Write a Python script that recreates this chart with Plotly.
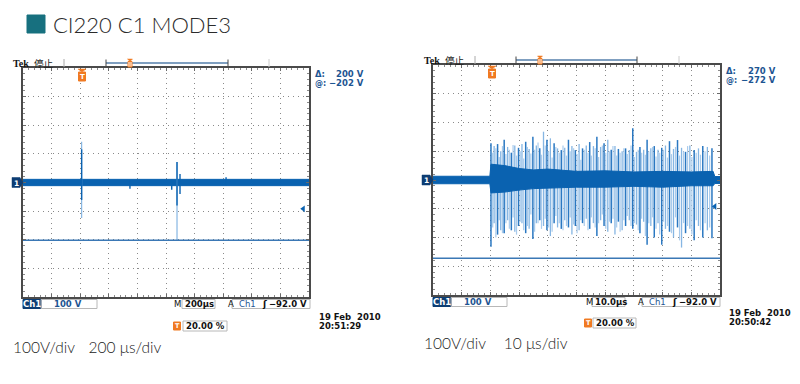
import plotly.graph_objects as go

# ---------------- data ----------------
# left scope: 200 us/div, 100 V/div, trigger at 20 %
L_env_t = [-400, 1600]
L_env_hi = [11, 11]
L_env_lo = [-11, -11]
L_dark_t = [10, 348, 640, 677, 698, 1020]
L_dark_hi = [116, 8, 10, 72, 30, 18]
L_dark_lo = [-61, -22, -25, -80, -40, -10]
L_light_t = [10, 677]
L_light_hi = [142, 72]
L_light_lo = [-124, -201]
L_cursor = -202
L_trig_level = -92

# right scope: 10 us/div, 100 V/div, trigger at 20 %
R_env_t = [-20, -0.2, 0.2, 5, 10, 15, 20, 30, 40, 50, 60, 70, 77.6, 78.2, 80]
R_env_hi = [13, 13, 55, 50, 40, 35, 38, 30, 32, 28, 30, 28, 30, 12, 12]
R_env_lo = [-13, -13, -45, -42, -35, -30, -28, -25, -25, -22, -25, -20, -20, -12, -12]
R_spk_t = [0.2, 1.3, 2.5, 3.6, 4.8, 6.0, 7.3, 8.5, 9.8, 11.0, 12.3, 13.5, 14.8, 16.0,
           17.2, 18.5, 19.7, 20.9, 22.2, 23.4, 24.7, 25.9, 27.2, 28.4, 29.6, 30.9,
           32.1, 33.4, 34.6, 35.9, 37.1, 38.4, 39.6, 40.9, 42.1, 43.4, 44.6, 45.9,
           47.1, 48.4, 49.6, 50.9, 52.1, 53.4, 54.6, 55.9, 57.1, 58.4, 59.7, 61.0,
           62.4, 63.8, 65.2, 66.6, 68.0, 69.5, 71.0, 72.5, 74.0, 75.6, 77.2]
R_spk_hi = [128, 118, 125, 100, 140, 115, 95, 120, 112, 125, 133, 108, 150, 120,
            110, 168, 140, 145, 128, 110, 104, 112, 140, 118, 104, 125,
            110, 120, 132, 118, 150, 115, 128, 140, 105, 118, 108, 100,
            110, 104, 180, 98, 115, 105, 140, 110, 118, 105, 112, 120,
            135, 108, 139, 112, 98, 120, 104, 110, 118, 115, 110]
R_spk_lo = [-232, -150, -190, -175, -185, -140, -175, -180, -160, -150, -185, -170, -205, -150,
            -140, -160, -175, -195, -150, -165, -170, -140, -165, -190, -160, -175,
            -150, -135, -170, -150, -195, -140, -160, -180, -150, -190, -145, -175,
            -160, -140, -170, -155, -185, -145, -225, -160, -200, -150, -225, -170,
            -180, -200, -165, -235, -185, -170, -210, -160, -200, -175, -203]
R_spk_style = ['d', 'l'] * 30 + ['d']
# fainter in-between spikes of the burst
R_mid_t = [0.8, 1.9, 3.1, 4.2, 5.4, 6.6, 7.9, 9.1, 10.4, 11.6, 12.9, 14.1, 15.4, 16.6,
           17.8, 19.1, 20.3, 21.5, 22.8, 24.0, 25.3, 26.5, 27.8, 29.0, 30.2, 31.5,
           32.7, 34.0, 35.2, 36.5, 37.7, 39.0, 40.2, 41.5, 42.7, 44.0, 45.2, 46.5,
           47.7, 49.0, 50.2, 51.5, 52.7, 54.0, 55.2, 56.5, 57.7, 59.0, 60.3, 61.7,
           63.1, 64.5, 65.9, 67.3, 68.7, 70.2, 71.7, 73.2, 74.8, 76.4]
R_mid_hi = [95, 110, 80, 118, 90, 105, 122, 85, 100, 75, 115, 92, 105, 130,
            88, 120, 100, 78, 115, 95, 120, 85, 100, 110, 90, 70,
            105, 95, 85, 110, 80, 120, 95, 100, 118, 85, 95, 110,
            90, 120, 80, 105, 95, 88, 100, 115, 82, 95, 105, 78,
            90, 115, 85, 100, 118, 80, 95, 88, 100, 85]
R_mid_lo = [-165, -200, -140, -185, -150, -170, -130, -190, -145, -175, -160, -120, -180, -150,
            -170, -135, -165, -180, -125, -150, -175, -160, -130, -155, -185, -140,
            -160, -175, -130, -165, -150, -120, -170, -145, -135, -165, -180, -140,
            -125, -160, -150, -175, -135, -195, -150, -130, -170, -190, -145, -160,
            -185, -130, -210, -150, -160, -190, -140, -175, -150, -165]
R_cursor = -272
R_trig_level = -92

# text
title = "CI220 C1 MODE3"
panels = [
    dict(delta="200 V", at="\u2212202 V", tb="200\u00b5s", date="19 Feb  2010", time="20:51:29",
         caption="100V/div\u2003\u2009200 \u03bcs/div"),
    dict(delta="270 V", at="\u2212272 V", tb="10.0\u00b5s", date="19 Feb  2010", time="20:50:42",
         caption="100V/div\u2003\u2009 10 \u03bcs/div"),
]

# ---------------- helpers ----------------
W, H = 800, 384
def PX(x): return x / W
def PY(y): return 1 - y / H

DARK = "#0a62b0"
MID = "#2a78c2"
LIGHT = "#86b6e3"
NAVY = "#0d3d73"
BLUE_TXT = "#1d5592"
ORANGE = "#f07a22"
SC = "DejaVu Sans"

fig = go.Figure()
ann = []
shp = []

def txt(x, y, s, size=8.5, color="#000", xa="left", family=SC, weight="bold", bg=None, ya="middle"):
    d = dict(x=PX(x), y=PY(y), xref="paper", yref="paper", text=s, showarrow=False,
             xanchor=xa, yanchor=ya, borderpad=0,
             font=dict(family=family, size=size, color=color, weight=weight))
    if bg:
        d["bgcolor"] = bg
    ann.append(d)

def rect(x0, y0, x1, y1, line="#b8b8b8", fill=None, lw=1):
    shp.append(dict(type="rect", xref="paper", yref="paper", x0=PX(x0), x1=PX(x1), y0=PY(y0), y1=PY(y1),
                    line=dict(color=line, width=lw), fillcolor=fill if fill else "rgba(0,0,0,0)", layer="above"))

def path(pts, fill, line=None):
    p = "M " + " L ".join(f"{PX(a):.5f},{PY(b):.5f}" for a, b in pts) + " Z"
    shp.append(dict(type="path", xref="paper", yref="paper", path=p, fillcolor=fill,
                    line=dict(color=line or fill, width=0.5), layer="above"))

def seg(x0, y0, x1, y1, color, w=1):
    shp.append(dict(type="line", xref="paper", yref="paper", x0=PX(x0), x1=PX(x1), y0=PY(y0), y1=PY(y1),
                    line=dict(color=color, width=w), layer="above"))

def spikes(ts, his, los):
    xs, ys = [], []
    for t, h, l in zip(ts, his, los):
        xs += [t, t, None]
        ys += [l, h, None]
    return xs, ys

def band(ts, hi, lo):
    return list(ts) + list(ts)[::-1], list(hi) + list(lo)[::-1]

# ---------------- traces ----------------
# left
bx, by = band(L_env_t, L_env_hi, L_env_lo)
fig.add_trace(go.Scatter(x=bx, y=by, fill="toself", fillcolor=DARK, line=dict(color=DARK, width=1),
                         mode="lines", xaxis="x", yaxis="y", hoverinfo="skip"))
sx, sy = spikes(L_light_t, L_light_hi, L_light_lo)
fig.add_trace(go.Scatter(x=sx, y=sy, mode="lines", line=dict(color=LIGHT, width=1.2), xaxis="x", yaxis="y"))
sx, sy = spikes(L_dark_t, L_dark_hi, L_dark_lo)
fig.add_trace(go.Scatter(x=sx, y=sy, mode="lines", line=dict(color=DARK, width=1.4), xaxis="x", yaxis="y"))
fig.add_trace(go.Scatter(x=[L_env_t[0], L_env_t[-1]], y=[L_cursor, L_cursor], mode="lines",
                         line=dict(color="#3b78b5", width=1.5), xaxis="x", yaxis="y"))
fig.add_trace(go.Scatter(x=[1560], y=[L_trig_level], mode="markers",
                         marker=dict(symbol="triangle-left", size=6, color=DARK), xaxis="x", yaxis="y"))

# right
lt = [t for t, s in zip(R_spk_t, R_spk_style) if s == "l"]
lh = [v for v, s in zip(R_spk_hi, R_spk_style) if s == "l"]
ll = [v for v, s in zip(R_spk_lo, R_spk_style) if s == "l"]
dt = [t for t, s in zip(R_spk_t, R_spk_style) if s == "d"]
dh = [v for v, s in zip(R_spk_hi, R_spk_style) if s == "d"]
dl = [v for v, s in zip(R_spk_lo, R_spk_style) if s == "d"]
sx, sy = spikes(R_mid_t, R_mid_hi, R_mid_lo)
fig.add_trace(go.Scatter(x=sx, y=sy, mode="lines", line=dict(color="#a9cbec", width=1.2), xaxis="x2", yaxis="y2"))
sx, sy = spikes(lt, lh, ll)
fig.add_trace(go.Scatter(x=sx, y=sy, mode="lines", line=dict(color=LIGHT, width=1.3), xaxis="x2", yaxis="y2"))
sx, sy = spikes(dt, dh, dl)
fig.add_trace(go.Scatter(x=sx, y=sy, mode="lines", line=dict(color=MID, width=1.5), xaxis="x2", yaxis="y2"))
bx, by = band(R_env_t, R_env_hi, R_env_lo)
fig.add_trace(go.Scatter(x=bx, y=by, fill="toself", fillcolor=DARK, line=dict(color=DARK, width=1),
                         mode="lines", xaxis="x2", yaxis="y2", hoverinfo="skip"))
fig.add_trace(go.Scatter(x=[R_env_t[0], R_env_t[-1]], y=[R_cursor, R_cursor], mode="lines",
                         line=dict(color="#3b78b5", width=1.5), xaxis="x2", yaxis="y2"))
fig.add_trace(go.Scatter(x=[78.2], y=[R_trig_level], mode="markers",
                         marker=dict(symbol="triangle-left", size=6, color=DARK), xaxis="x2", yaxis="y2"))

# ---------------- axes ----------------
def xax(domain, rng, dt):
    return dict(domain=domain, range=rng, dtick=dt, tick0=rng[0], showgrid=True, gridcolor="#8a8a8a",
                griddash="1px,4px", gridwidth=1, showline=True, linecolor="#4a4a4a", linewidth=1.5,
                mirror="ticks", ticks="inside", ticklen=3, tickcolor="#6a6a6a", showticklabels=False,
                zeroline=False, fixedrange=True,
                minor=dict(dtick=dt / 5, ticks="inside", ticklen=2, tickcolor="#8a8a8a", showgrid=False))

fig.update_layout(
    width=W, height=H, margin=dict(l=0, r=0, t=0, b=0), showlegend=False,
    paper_bgcolor="white", plot_bgcolor="white",
    xaxis=xax([PX(23), PX(309)], [-400, 1600], 200),
    yaxis=dict(xax([PY(297), PY(68)], [-400, 400], 100), anchor="x"),
    xaxis2=dict(xax([PX(433), PX(720)], [-20, 80], 10), anchor="y2"),
    yaxis2=dict(xax([PY(295), PY(65)], [-400, 400], 100), anchor="x2"),
)
fig.layout.xaxis.anchor = "y"

# ---------------- decorations ----------------
# title
rect(27, 15, 45, 33, line="#17707f", fill="#17707f")
txt(52, 24.5, title, size=22, color="#2b2b2b", family="Lato", weight=300)

geo = [
    dict(x0=23, x1=309, top=68, bot=297, zero=182.5, tek=(12, 63), bar=63, t1=64, br=(106, 228), om=130, t2=269,
         trig=82, dx=314, dv=365, dy=(74, 83), by=304, ch1=(23, 41), v100=(41, 97), mx=173, tbb=(182, 215),
         ax=227, tr=(232, 310), pic=(177, 326), pbox=(183, 227), date=(318, 317, 326), cap=(12, 347)),
    dict(x0=433, x1=720, top=65, bot=295, zero=180, tek=(423, 60), bar=60, t1=475, br=(516, 637), om=540, t2=679,
         trig=492, dx=725, dv=777, dy=(71, 80), by=302, ch1=(433, 451), v100=(451, 507), mx=585, tbb=(592, 625),
         ax=637, tr=(642, 720), pic=(588, 323), pbox=(593, 636), date=(728, 313, 322), cap=(423, 343)),
]

for g, p in zip(geo, panels):
    # Tek header
    txt(g["tek"][0], g["tek"][1], "Tek", size=10, family="Liberation Serif", color="#111")
    txt(g["tek"][0] + 21, g["tek"][1], "停止", size=9.5, family="Noto Sans CJK JP", weight="normal", color="#222")
    b = g["bar"]
    seg(g["t1"], b - 4, g["t1"], b + 4, "#aaaaaa", 1)
    seg(g["t2"], b - 4, g["t2"], b + 4, "#cccccc", 1)
    seg(g["br"][0], b, g["br"][1], b, "#7f9fc0", 2)
    seg(g["br"][0], b - 3.5, g["br"][0], b + 3.5, "#444", 1)
    seg(g["br"][1], b - 3.5, g["br"][1], b + 3.5, "#444", 1)
    om = g["om"]
    path([(om - 2.5, b - 4), (om + 2.5, b - 4), (om, b - 1.5)], ORANGE)
    rect(om - 2, b - 1.5, om + 2, b + 4, line=ORANGE, fill="white", lw=1)
    seg(om, b - 1, om, b + 4, ORANGE, 1)
    # trigger marker under top edge
    tx, ty = g["trig"], g["top"]
    path([(tx - 4, ty + 1), (tx + 4, ty + 1), (tx, ty + 4)], ORANGE)
    rect(tx - 3.5, ty + 4, tx + 3.5, ty + 13, line=ORANGE, fill=ORANGE)
    txt(tx, ty + 9, "T", size=7, color="white", xa="center")
    # channel 1 ground marker
    z = g["zero"]
    x0 = g["x0"]
    path([(x0 - 11, z - 5), (x0 - 3, z - 5), (x0, z), (x0 - 3, z + 5), (x0 - 11, z + 5)], NAVY)
    txt(x0 - 6.5, z + 0.5, "1", size=7.5, color="white", xa="center")
    # cursor readouts
    txt(g["dx"], g["dy"][0], "\u0394:", size=8.5, color=BLUE_TXT)
    txt(g["dx"], g["dy"][1], "@:", size=8, color=BLUE_TXT)
    txt(g["dv"], g["dy"][0], p["delta"], size=8.5, color=BLUE_TXT, xa="right")
    txt(g["dv"], g["dy"][1], p["at"], size=8.5, color=BLUE_TXT, xa="right")
    # bottom status bar
    y = g["by"]
    rect(g["ch1"][0], y - 4.5, g["ch1"][1], y + 4.5, line=NAVY, fill=NAVY)
    txt((g["ch1"][0] + g["ch1"][1]) / 2, y, "Ch1", size=8.5, color="white", xa="center")
    rect(g["v100"][0], y - 4.5, g["v100"][1], y + 4.5)
    txt(g["v100"][0] + 12, y, "100 V", size=8.5, color=BLUE_TXT)
    txt(g["mx"], y, "M", size=8.5, color="#111", weight="normal")
    rect(g["tbb"][0], y - 4.5, g["tbb"][1], y + 4.5)
    txt(g["tbb"][0] + 2, y, p["tb"], size=8.5, color="#111")
    txt(g["ax"], y, "A", size=8.5, color="#111", weight="normal")
    rect(g["tr"][0], y - 4.5, g["tr"][1], y + 4.5)
    txt(g["tr"][0] + 6, y, "Ch1", size=8.5, color=BLUE_TXT, weight="normal")
    txt(g["tr"][0] + 29, y, "\u0283", size=9, color="#111")
    txt(g["tr"][1] - 2, y, "\u221292.0 V", size=8.5, color="#111", xa="right")
    # trigger position
    px_, py_ = g["pic"]
    rect(px_ - 3.5, py_ - 4, px_ + 3.5, py_ + 4, line=ORANGE, fill=ORANGE)
    txt(px_, py_, "T", size=6.5, color="white", xa="center")
    rect(g["pbox"][0], py_ - 5, g["pbox"][1], py_ + 5)
    txt(g["pbox"][0] + 2, py_, "20.00 %", size=8.5, color="#111")
    # date / time
    dx_, d1, d2 = g["date"]
    txt(dx_, d1, p["date"], size=8.5, color="#111")
    txt(dx_, d2, p["time"], size=8.5, color="#111")
    # caption
    txt(g["cap"][0], g["cap"][1], p["caption"], size=15.5, color="#222", family="Lato", weight=300)

fig.update_layout(annotations=ann, shapes=shp)
fig.write_html("out.html", config={"displayModeBar": False},
               post_script="document.body.style.margin='0';")
